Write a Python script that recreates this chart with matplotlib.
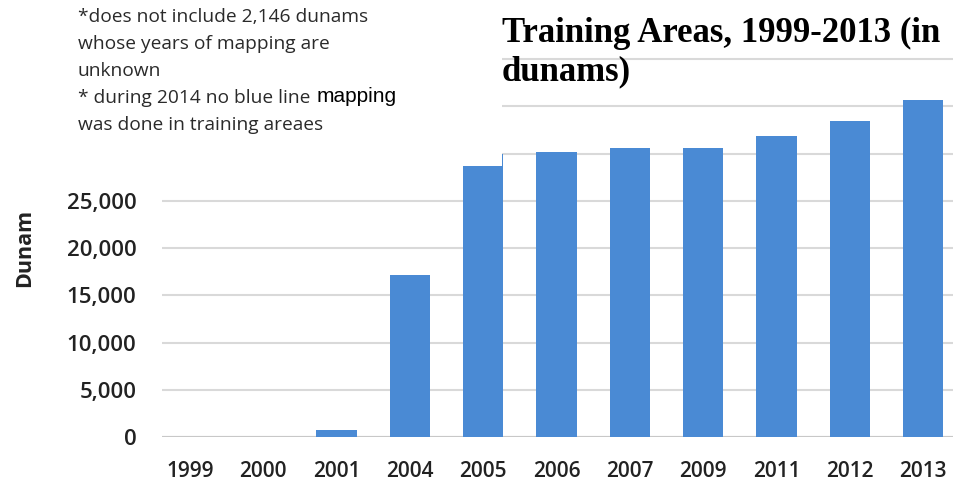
import matplotlib
matplotlib.use("Agg")
import matplotlib.pyplot as plt
from matplotlib.patches import Rectangle

years = ["1999", "2000", "2001", "2004", "2005", "2006", "2007", "2009", "2011", "2012", "2013"]
dunams = [0, 20, 700, 17200, 30000, 30150, 30600, 30550, 31900, 33450, 35650]
y_ticks = [0, 5000, 10000, 15000, 20000, 25000, 30000, 35000, 40000]

note_lines = [
    "*does not include 2,146 dunams",
    "whose years of mapping are",
    "unknown",
    "* during 2014 no blue line",
    "was done in training areaes",
]
note_tail = "mapping"
title = "Training Areas, 1999-2013 (in\ndunams)"

W, H = 954, 499
fig = plt.figure(figsize=(W / 100, H / 100), dpi=100)

def fx(px):
    return px / W

def fy(py):
    return 1 - py / H

ax = fig.add_axes([fx(162), fy(437), fx(954) - fx(162), fy(12) - fy(437)])
x = list(range(len(years)))
ax.bar(x, dunams, width=0.55, color="#4a8ad4", zorder=3)
ax.set_xlim(-0.382, 10.42)
ax.set_ylim(0, 45000)
ax.set_yticks(y_ticks)
ax.set_yticklabels([f"{v:,}" for v in y_ticks])
ax.set_xticks(x)
ax.set_xticklabels(years)
ax.grid(axis="y", color="#d9d9d9", linewidth=1.5, zorder=0)
ax.axhline(0, color="#c8c8c8", linewidth=1.5, zorder=2)
for s in ax.spines.values():
    s.set_visible(False)
ax.tick_params(length=0, labelcolor="#222222")
ax.tick_params(axis="x", pad=17, labelsize=15)
ax.tick_params(axis="y", pad=18.5, labelsize=16)
for lab in ax.get_xticklabels() + ax.get_yticklabels():
    lab.set_family("Open Sans")
    lab.set_fontweight("semibold")

fig.text(fx(25), fy(248), "Dunam", rotation=90, ha="center", va="center",
         fontsize=15.5, fontweight="bold", family="Open Sans", color="#222222")

# white panel behind the notes
fig.patches.append(Rectangle((0, fy(166)), fx(502), 1 - fy(166),
                             transform=fig.transFigure, facecolor="white",
                             edgecolor="none", zorder=5))

note_y = [17, 44, 71, 98, 125]
texts = []
for line, yy in zip(note_lines, note_y):
    t = fig.text(fx(78), fy(yy), line, ha="left", va="center", fontsize=13.8,
                 family="Open Sans", color="#2a2a2a", zorder=6)
    texts.append(t)

fig.canvas.draw()
bb = texts[3].get_window_extent()
fig.text((bb.x1 + 6) / W, fy(96), note_tail, ha="left", va="center",
         fontsize=15, family="Liberation Sans", color="black", zorder=6)

fig.text(fx(502), fy(80), title, ha="left", va="baseline", fontsize=25,
         fontweight="bold", family="Liberation Serif", color="black",
         linespacing=1.2, zorder=6)

fig.savefig("out.png", dpi=100)
